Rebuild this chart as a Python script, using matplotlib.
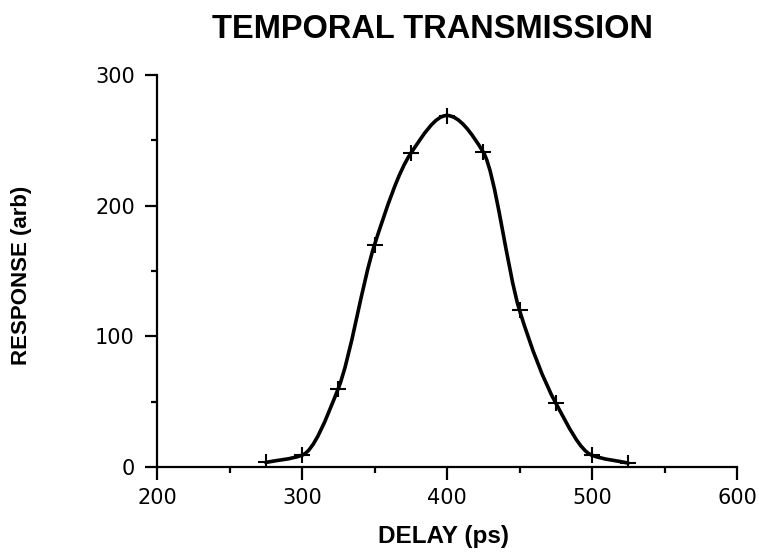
import numpy as np
import matplotlib
matplotlib.use("Agg")
import matplotlib.pyplot as plt
from matplotlib.path import Path
from matplotlib.patches import PathPatch

plt.rcParams['font.family'] = ['Liberation Sans', 'DejaVu Sans']

# Data
delay_ps = [275, 300, 325, 350, 375, 400, 425, 450, 475, 500, 525]
response = [3.5, 9, 60, 170, 240, 269, 241, 120, 49, 9, 3]

x_ticks = [200, 300, 400, 500, 600]
y_ticks = [0, 100, 200, 300]
title = "TEMPORAL TRANSMISSION"
x_label = "DELAY (ps)"
y_label = "RESPONSE (arb)"

W, H = 759, 552
fig = plt.figure(figsize=(W / 100, H / 100), dpi=100)
ax = fig.add_axes([157 / W, 1 - 467 / H, (737 - 157) / W, (467 - 75) / H])

# Smooth monotone (PCHIP-style) curve through the points, drawn as Bezier path in data coords
xs = np.asarray(delay_ps, float)
ys = np.asarray(response, float)
n = len(xs)
h = np.diff(xs)
d = np.diff(ys) / h
m = np.zeros(n)
for k in range(1, n - 1):
    if d[k - 1] * d[k] > 0:
        w1 = 2 * h[k] + h[k - 1]
        w2 = h[k] + 2 * h[k - 1]
        m[k] = (w1 + w2) / (w1 / d[k - 1] + w2 / d[k])
    else:
        m[k] = 0.0
m[0] = d[0]
m[-1] = d[-1]
verts = [(xs[0], ys[0])]
codes = [Path.MOVETO]
for i in range(n - 1):
    c1 = (xs[i] + h[i] / 3, ys[i] + m[i] * h[i] / 3)
    c2 = (xs[i + 1] - h[i] / 3, ys[i + 1] - m[i + 1] * h[i] / 3)
    verts += [c1, c2, (xs[i + 1], ys[i + 1])]
    codes += [Path.CURVE4] * 3
ax.add_patch(PathPatch(Path(verts, codes), facecolor='none', edgecolor='black',
                       lw=2.6, capstyle='round', joinstyle='round', zorder=3))
ax.plot(delay_ps, response, linestyle='none', marker='+', markersize=11,
        markeredgewidth=1.5, color='black', zorder=4)

ax.set_xlim(200, 600)
ax.set_ylim(0, 300)
ax.set_xticks(x_ticks)
ax.set_yticks(y_ticks)
ax.set_xticks([250, 350, 450, 550], minor=True)
ax.set_yticks([50, 150, 250], minor=True)

for s in ['top', 'right']:
    ax.spines[s].set_visible(False)
for s in ['left', 'bottom']:
    ax.spines[s].set_linewidth(1.6)

ax.tick_params(which='major', direction='out', length=9, width=1.6,
               labelsize=15, color='black')
ax.tick_params(which='minor', direction='out', length=4.5, width=1.6, color='black')
ax.tick_params(axis='y', which='major', pad=7)
ax.tick_params(axis='x', which='major', pad=6)
for lab in ax.get_xticklabels() + ax.get_yticklabels():
    lab.set_family(['DejaVu Sans'])

ax.set_xlabel(x_label, fontsize=17.5, fontweight='bold')
ax.set_ylabel(y_label, fontsize=16, fontweight='bold')
ax.xaxis.set_label_coords((443 - 157) / 580, (467 - 537) / 392)
ax.xaxis.label.set_va('center')
ax.yaxis.set_label_coords((22 - 157) / 580, (467 - 275) / 392)
ax.yaxis.label.set_va('center')

fig.text(433 / W, 1 - 29 / H, title, ha='center', va='center',
         fontsize=23.5, fontweight='bold')

fig.savefig("out.png", dpi=100)
